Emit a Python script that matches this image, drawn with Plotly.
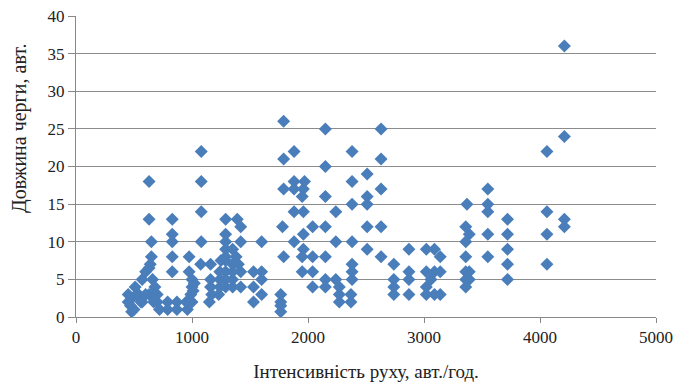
import plotly.graph_objects as go

# Інтенсивність руху (авт./год.)
intensity = [
    450, 450, 470, 480, 500, 480, 510, 520,
    540, 560, 570, 570, 600, 600,
    630, 630, 650, 650, 640, 630, 660, 680, 630, 670, 650,
    700, 720, 700,
    790, 790,
    830, 830, 830, 830, 830,
    870, 870,
    950, 960, 975, 975, 990, 1000, 1000, 1010, 1020, 1000,
    1080, 1080, 1080, 1080, 1075,
    1160, 1160, 1160, 1170, 1150, 1230, 1240, 1250, 1240, 1240,
    1290, 1290, 1290, 1290, 1290, 1290, 1290, 1290, 1290,
    1350, 1350, 1350, 1350, 1350, 1390, 1420, 1420, 1400, 1420, 1420, 1380,
    1530, 1530, 1530, 1600, 1600, 1600, 1600,
    1790, 1790, 1790, 1780, 1790, 1765, 1765, 1765, 1765,
    1880, 1880, 1880, 1880, 1880, 1970, 1960, 1950, 1960, 1960, 1960, 1950, 1950,
    2040, 2040, 2040, 2040,
    2150, 2150, 2150, 2150, 2150, 2150, 2150,
    2240, 2240, 2240, 2270, 2270, 2270,
    2380, 2380, 2380, 2380, 2380, 2380, 2380, 2370, 2370,
    2510, 2510, 2510, 2510, 2510,
    2630, 2630, 2630, 2630, 2630,
    2740, 2740, 2740, 2740,
    2870, 2870, 2870, 2870,
    3020, 3090, 3140, 3020, 3090, 3140, 3060, 3020, 3020, 3090, 3140,
    3370, 3360, 3390, 3360, 3360, 3360, 3390, 3360, 3390, 3360,
    3550, 3550, 3550, 3550, 3550,
    3720, 3720, 3720, 3720, 3720,
    4060, 4060, 4060, 4060,
    4210, 4210, 4210, 4210,
]

# Довжина черги (авт.)
queue = [
    3, 2, 1.5, 0.7, 1, 2.5, 4, 3,
    3, 2, 5, 2, 6, 3,
    18, 13, 10, 8, 7, 6.5, 5, 4, 3, 2, 3,
    2, 1, 3,
    2, 1,
    13, 11, 10, 8, 6,
    2, 1,
    2, 1, 8, 6, 3, 5, 4, 3.5, 4.5, 2,
    22, 18, 14, 10, 7,
    7, 5, 4, 3, 2, 3, 4, 7.5, 6, 5,
    13, 11, 10, 9, 7.5, 6, 5, 4, 8,
    9, 7, 6, 5, 4, 13, 12, 10, 7, 6, 4, 8,
    6, 4, 2, 10, 6, 5, 3,
    26, 21, 17, 12, 8, 3, 2, 1.5, 0.7,
    22, 18, 17, 14, 10, 18, 17, 16, 14, 11, 9, 8, 6,
    12, 8, 6, 4,
    25, 20, 16, 12, 8, 5, 4,
    14, 10, 5, 4, 3, 2,
    22, 18, 15, 10, 7, 6, 5, 3, 2,
    19, 16, 15, 12, 9,
    25, 21, 17, 12, 8,
    7, 5, 4, 3,
    9, 6, 5, 3,
    9, 9, 8, 6, 6, 6, 5, 4, 3, 3, 3,
    15, 12, 11, 10, 8, 6, 6, 5, 5, 4,
    17, 15, 14, 11, 8,
    13, 11, 9, 7, 5,
    22, 14, 11, 7,
    36, 24, 13, 12,
]

x_ticks = [0, 1000, 2000, 3000, 4000, 5000]
y_ticks = [0, 5, 10, 15, 20, 25, 30, 35, 40]

x_title = "Інтенсивність руху, авт./год."
y_title = "Довжина черги, авт."

font_family = "Liberation Serif, Times New Roman, serif"

fig = go.Figure()
fig.add_trace(go.Scatter(
    x=intensity, y=queue, mode="markers",
    marker=dict(symbol="diamond", size=10, color="#4A7EBB",
                line=dict(width=0)),
    showlegend=False,
))

fig.update_layout(
    width=675, height=383,
    margin=dict(l=76, r=19, t=16, b=66),
    paper_bgcolor="white", plot_bgcolor="white",
    font=dict(family=font_family, size=17, color="#222222"),
    xaxis=dict(
        range=[0, 5000], tickvals=x_ticks, ticktext=[str(v) for v in x_ticks],
        showgrid=False, zeroline=False, automargin=False,
        showline=True, linecolor="#888888", linewidth=1,
        ticks="outside", ticklen=5, tickcolor="#888888",
        tickfont=dict(family=font_family, size=17),
        title=dict(text=x_title,
                   font=dict(family=font_family, size=19), standoff=18),
    ),
    yaxis=dict(
        range=[0, 40], tickvals=y_ticks, ticktext=[str(v) for v in y_ticks],
        showgrid=True, gridcolor="#8c8c8c", gridwidth=1, zeroline=False,
        automargin=False,
        showline=True, linecolor="#888888", linewidth=1,
        ticks="outside", ticklen=7, tickcolor="#888888",
        tickfont=dict(family=font_family, size=17),
    ),
    annotations=[dict(
        text=y_title, textangle=-90, showarrow=False,
        xref="paper", yref="paper", x=-0.0966, y=0.628,
        xanchor="center", yanchor="middle",
        font=dict(family=font_family, size=20, color="#222222"),
    )],
)

fig.write_html(
    "out.html",
    config={"displayModeBar": False},
    post_script="document.body.style.margin='0px';document.body.style.overflow='hidden';",
)
